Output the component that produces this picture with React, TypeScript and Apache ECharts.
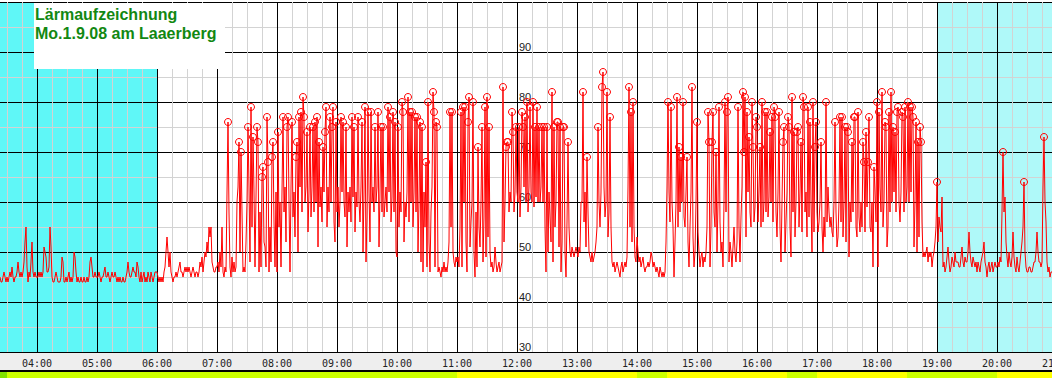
import React, { useEffect, useRef } from 'react';
import * as echarts from 'echarts';

// Noise level (dB) per minute, Mo. 1.9.08, one array per hour
const h03 = [45,44,44,45,46,45,44,45,44,45, 46,45,47,45,44,45,45,46,48,46, 45,46,45,46,48,52,55,47,44,46, 45,48,52,46,45,46,45]; // from 03:23
const h04 = [45,45,46,45,46,45,46,51,50,49, 46,46,47,55,51,45,44,44,45,46, 45,44,44,44,45,49,48,44,44,45, 44,45,46,44,45,44,45,50,49,46, 44,45,44,44,45,44,44,45,44,44, 45,44,45,48,49,47,45,45,46,45];
const h05 = [45,45,46,45,44,45,45,46,47,45, 45,46,45,44,45,46,45,45,46,45, 44,45,44,45,44,44,45,44,44,45, 46,48,46,45,45,46,47,46,46,45, 48,47,45,44,46,44,45,46,44,45, 44,46,45,44,46,45,44,45,46,46];
const h06 = [46,45,44,45,44,45,44,46,47,50, 53,50,47,50,46,45,44,45,45,46, 45,46,47,48,46,46,45,46,47,46, 47,46,47,46,45,46,47,46,45,46, 46,45,46,48,47,49,46,48,50,49, 52,50,55,53,55,48,47,46,46,47];
const h07 = [47,48,46,50,47,55,46,45,47,46, 62,76,58,47,45,49,46,48,46,47, 60,63,72,50,70,58,46,47,46,52, 60,75,63,48,79,55,73,62,47,61, 75,72,46,58,47,65,67,52,51,47, 77,68,46,55,48,69,72,56,47,62];
const h08 = [46,74,55,60,47,62,77,58,63,52, 75,77,60,46,63,76,57,62,53,69, 72,50,77,63,78,58,81,77,60,63, 74,54,62,75,57,63,75,58,76,60, 77,51,72,59,63,56,71,62,74,79, 55,63,58,77,60,75,79,56,52,76];
const h09 = [58,63,55,60,77,62,76,60,57,75, 51,62,58,63,56,77,61,75,54,62, 59,77,60,56,63,76,50,62,79,48, 57,78,62,52,78,60,63,58,75,60, 63,78,51,62,75,58,75,57,60,63, 58,79,62,77,56,61,78,58,76,50];
const h10 = [49,75,55,62,58,80,78,52,60,57, 62,81,56,78,60,78,55,62,77,58, 77,50,60,76,48,75,46,62,55,68, 47,80,52,46,58,63,82,78,47,76, 75,46,47,46,45,47,46,48,46,47, 46,48,52,78,55,78,50,48,47,49];
const h11 = [48,49,47,55,78,47,79,60,79,52, 46,76,81,51,56,60,80,50,45,58, 47,71,55,51,60,75,48,57,79,49, 81,53,75,50,47,48,46,47,51,48, 46,47,48,46,47,48,83,52,60,71, 72,72,58,62,60,78,74,58,62,75];
const h12 = [62,60,75,57,63,78,75,63,77,60, 80,58,63,79,62,60,80,59,75,61, 79,60,75,60,63,75,60,75,55,46, 75,50,62,57,52,82,48,75,55,60, 76,76,51,75,46,52,75,75,50,45, 56,72,55,50,49,51,50,49,50,51];
const h13 = [50,49,51,50,60,60,82,56,62,51, 69,58,50,49,48,50,48,49,50,52, 55,75,60,55,62,83,86,63,57,60, 82,53,58,77,55,48,47,48,46,47, 48,47,46,45,47,48,46,47,48,47, 49,63,83,55,78,52,80,55,49,48];
const h14 = [53,50,48,49,47,48,49,47,46,47, 47,48,47,48,50,49,47,48,47,46, 47,46,45,47,46,45,46,45,46,52, 63,80,62,56,79,60,55,45,52,60, 81,55,71,58,69,60,80,57,55,62, 69,52,47,55,62,83,53,47,50,60];
const h15 = [76,54,50,47,49,50,47,49,48,50, 55,78,72,47,55,72,78,58,55,70, 50,60,79,56,50,52,47,60,80,58, 78,81,48,52,50,47,51,55,50,48, 52,79,55,48,57,63,82,70,81,53, 78,62,73,58,55,80,71,56,59,77];
const h16 = [75,56,62,71,55,80,56,60,78,58, 78,57,61,74,60,77,56,79,77,58, 53,62,78,55,48,60,72,75,50,56, 62,77,75,55,49,81,58,74,53,60, 74,75,55,62,72,54,81,79,58,62, 53,79,57,76,60,50,80,54,71,76];
const h17 = [58,54,56,60,72,55,50,57,53,80, 56,63,58,55,57,54,53,60,76,58, 51,53,60,77,56,77,53,60,75,52, 75,74,49,60,56,72,58,77,77,55, 53,78,57,54,60,55,72,68,54,74, 59,68,77,55,54,60,47,67,62,56];
const h18 = [80,47,78,63,58,82,55,60,76,75, 51,55,78,58,82,60,75,62,74,58, 78,79,60,56,62,78,77,58,79,60, 63,80,60,79,62,79,77,51,60,76, 50,72,53,75,72,56,49,50,49,50, 51,48,50,49,50,47,49,50,52,55];
const h19 = [64,52,57,55,54,61,47,48,46,47, 49,51,48,46,47,49,48,47,50,48, 48,48,47,47,49,51,48,47,49,48, 48,50,54,50,48,47,49,48,47,48, 46,48,47,46,48,49,50,52,48,47, 45,47,48,46,47,48,46,47,48,47];
const h20 = [47,48,47,49,48,58,70,58,61,52, 49,47,50,48,47,49,54,49,47,46, 49,47,46,48,50,52,55,64,50,47, 46,46,47,47,46,46,47,48,48,50, 54,50,48,48,47,48,63,73,60,56, 48,46,47,45,46,46];

const hourArrays = [h03, h04, h05, h06, h07, h08, h09, h10, h11, h12, h13, h14, h15, h16, h17, h18, h19, h20];
const hourStarts = [203, 240, 300, 360, 420, 480, 540, 600, 660, 720, 780, 840, 900, 960, 1020, 1080, 1140, 1200]; // minutes of day

// Night bands [from, to, colour index] in minutes of day
const nightBands = [[180, 360, 0], [1140, 1260, 1]];
// Level bar below the axis [from, to, colour index]
const levelSegments = [[203, 210, 0], [210, 660, 1], [660, 840, 2], [840, 870, 1], [870, 990, 2], [990, 1020, 1], [1020, 1110, 2], [1110, 1200, 1], [1200, 1260, 2]];

const titleLines = ['Lärmaufzeichnung', 'Mo.1.9.08 am Laaerberg'];
const markerThreshold = 64;

const bandColors = ['#5ff7f7', '#aff9f9'];
const levelColors = ['#80e000', '#ccff00', '#ffff00'];

const pad = (n: number) => (n < 10 ? '0' + n : String(n));

export default function App() {
  const ref = useRef<HTMLDivElement>(null);
  useEffect(() => {
    document.body.style.margin = '0';
    if (!ref.current) return;
    const chart = echarts.init(ref.current, null, { renderer: 'svg' });

    const lineData: number[][] = [];
    hourArrays.forEach((arr, i) => {
      arr.forEach((v, j) => lineData.push([hourStarts[i] + j, v]));
    });

    const rectItem = (colors: string[]) => (params: any, api: any) => {
      const s = api.coord([api.value(0), api.value(3)]);
      const e = api.coord([api.value(1), api.value(3)]);
      const cs = params.coordSys;
      return {
        type: 'rect',
        shape: { x: s[0], y: cs.y, width: e[0] - s[0], height: cs.height },
        style: { fill: colors[api.value(2)] },
      };
    };

    chart.setOption({
      animation: false,
      color: ['#ff0000'],
      grid: [
        { left: -23, top: 2, width: 1080, height: 350, outerBoundsMode: 'none', containLabel: false },
        { left: -23, top: 372, width: 1080, height: 6, outerBoundsMode: 'none', containLabel: false },
      ],
      xAxis: [
        {
          type: 'value', min: 180, max: 1260, interval: 60,
          axisLine: { show: false }, axisTick: { show: false },
          axisLabel: {
            margin: 6, color: () => '#222222', fontFamily: 'DejaVu Sans Mono', fontSize: 10,
            formatter: (v: number) => (v <= 180 ? '' : pad(Math.round(v / 60)) + ':00'),
          },
          splitLine: { show: true, lineStyle: { color: '#000', width: 1 } },
          minorTick: { show: false, splitNumber: 4 },
          minorSplitLine: { show: true, lineStyle: { color: '#d3d3d3', width: 1 } },
        },
        { type: 'value', gridIndex: 1, min: 180, max: 1260, show: false },
      ],
      yAxis: [
        {
          type: 'value', min: 30, max: 100, interval: 10, position: 'left', offset: -540,
          axisLine: { show: false }, axisTick: { show: false },
          axisLabel: {
            inside: true, margin: 2, verticalAlign: 'bottom', color: () => '#222222',
            fontFamily: 'Liberation Sans', fontSize: 11, fontWeight: 'normal', textBorderWidth: 0,
            formatter: (v: number) => (v >= 100 ? '' : String(v)),
          },
          splitLine: { show: true, lineStyle: { color: '#000', width: 1 } },
          minorTick: { show: false, splitNumber: 2 },
          minorSplitLine: { show: true, lineStyle: { color: '#d3d3d3', width: 1 } },
        },
        { type: 'value', gridIndex: 1, min: 0, max: 1, show: false },
      ],
      series: [
        {
          type: 'custom', name: 'night', z: -1, silent: true,
          data: nightBands.map((b) => [b[0], b[1], b[2], 30]),
          encode: { x: [0, 1], y: 3 },
          renderItem: rectItem(bandColors),
        },
        {
          type: 'line', name: 'dB', data: lineData,
          showSymbol: true, showAllSymbol: true, symbol: 'circle',
          symbolSize: (v: number[]) => (v[1] >= markerThreshold ? 7 : 0),
          itemStyle: { color: 'rgba(0,0,0,0)', borderColor: '#ff0000', borderWidth: 1 },
          lineStyle: { color: '#ff0000', width: 1 },
          silent: true,
        },
        {
          type: 'custom', name: 'level', xAxisIndex: 1, yAxisIndex: 1, silent: true,
          data: levelSegments.map((b) => [b[0], b[1], b[2], 0]),
          encode: { x: [0, 1], y: 3 },
          renderItem: rectItem(levelColors),
        },
      ],
      graphic: [
        { type: 'rect', z: -10, shape: { x: 0, y: 353, width: 1052, height: 17 }, style: { fill: '#eeeeee' } },
        { type: 'rect', z: 10, shape: { x: 0, y: 370, width: 1052, height: 2 }, style: { fill: '#000' } },
        { type: 'rect', z: 100, shape: { x: 34, y: 3, width: 191, height: 66 }, style: { fill: '#ffffff' } },
        {
          type: 'text', z: 101, x: 35, y: 6,
          style: { text: titleLines[0], fill: '#128812', font: 'bold 16px "Liberation Sans", Arial, sans-serif', verticalAlign: 'top' },
        },
        {
          type: 'text', z: 101, x: 35, y: 25,
          style: { text: titleLines[1], fill: '#128812', font: 'bold 16px "Liberation Sans", Arial, sans-serif', verticalAlign: 'top' },
        },
      ],
    });
    return () => chart.dispose();
  }, []);
  return <div ref={ref} style={{ position: 'absolute', left: 0, top: 0, width: 1052, height: 378 }} />;
}
